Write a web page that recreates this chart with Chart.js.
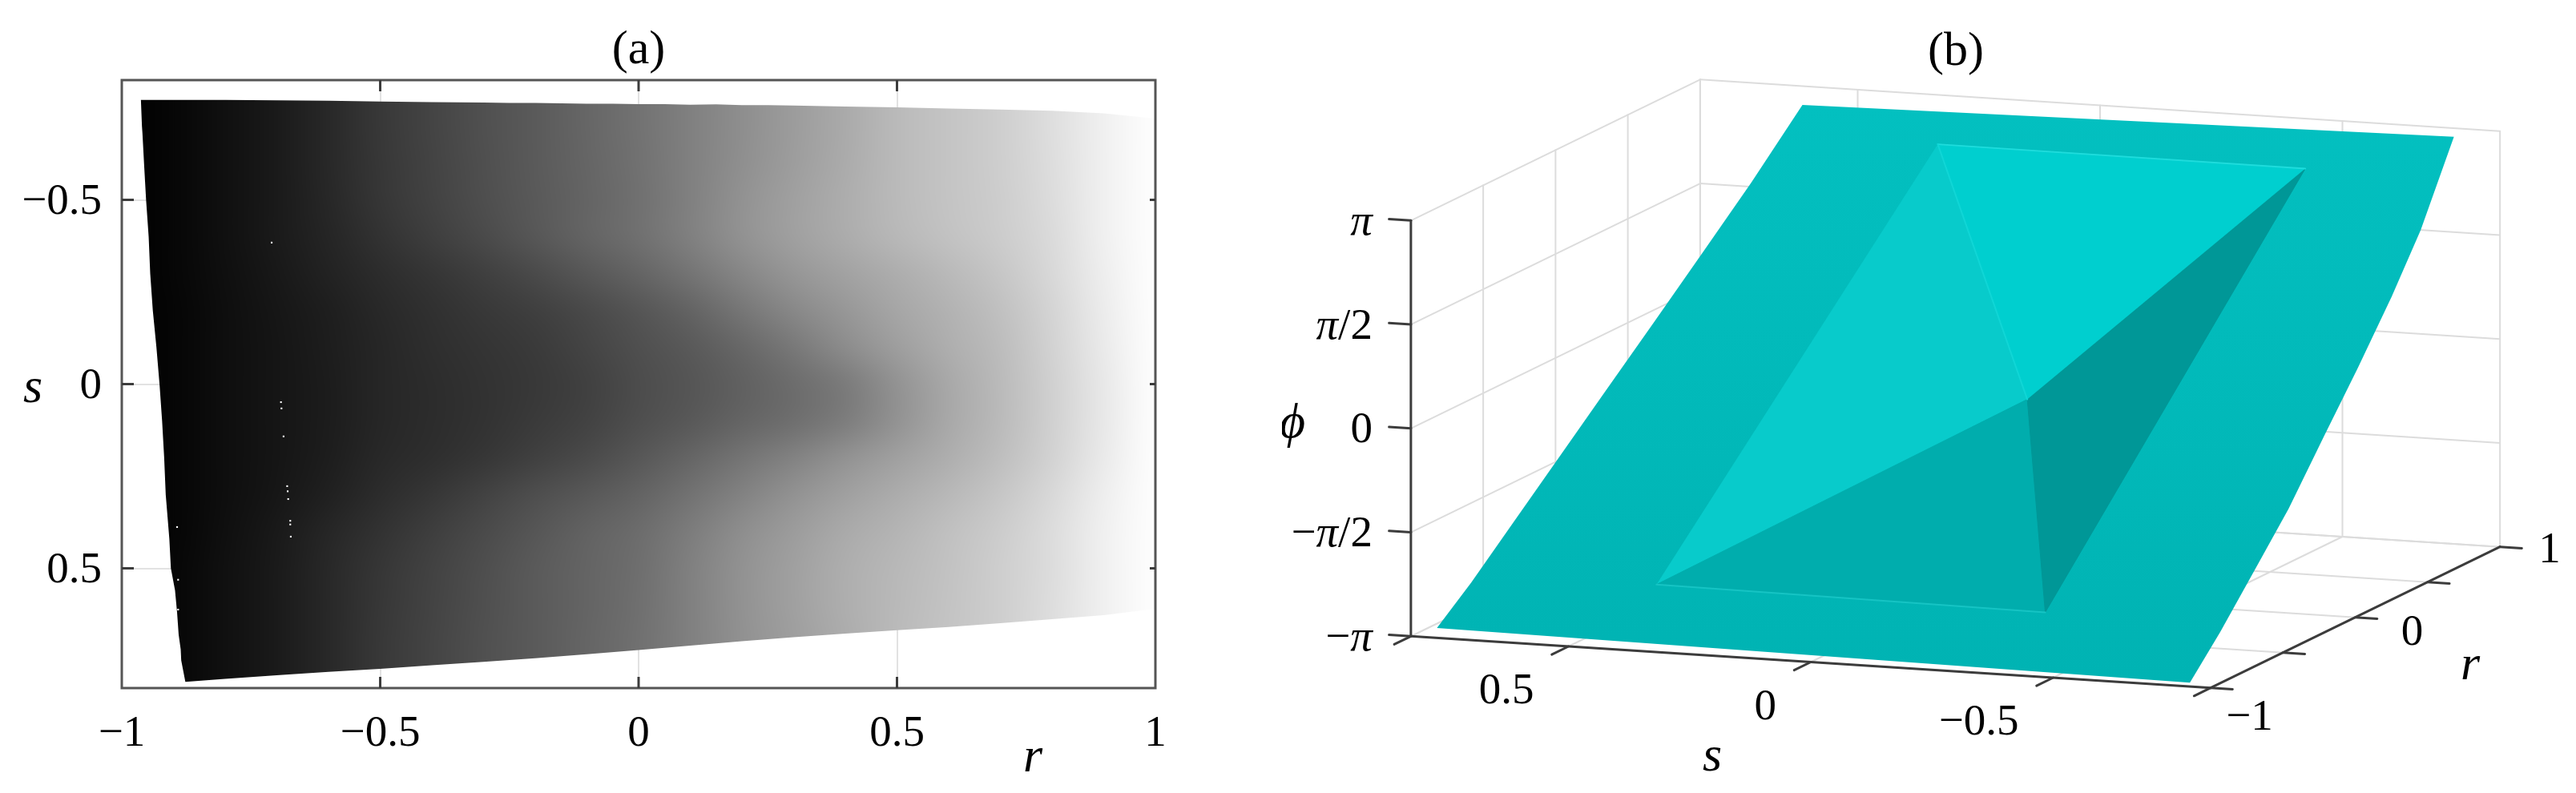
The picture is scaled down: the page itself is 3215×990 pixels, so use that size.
<!DOCTYPE html>
<html>
<head>
<meta charset="utf-8">
<title>Phase map</title>
<script src="https://cdn.jsdelivr.net/npm/chart.js@4/dist/chart.umd.min.js"></script>
<style>
  html, body { margin: 0; padding: 0; background: #fff; }
  canvas { position: absolute; top: 0; }
  #panelA { left: 0; }
  #panelB { left: 1600px; }
</style>
</head>
<body>
<canvas id="panelA" width="1600" height="990"></canvas>
<canvas id="panelB" width="1615" height="990"></canvas>
<script>
// panel (a): grey levels, rows are s, columns are r
const rGrid = [-1, -0.9, -0.8, -0.7, -0.6, -0.5, -0.4, -0.3, -0.2, -0.1, 0, 0.1, 0.2, 0.3, 0.4, 0.5, 0.6, 0.7, 0.8, 0.9, 1];
const sGrid = [-0.8, -0.7, -0.6, -0.5, -0.4, -0.3, -0.2, -0.1, 0, 0.1, 0.2, 0.3, 0.4, 0.5, 0.6, 0.7, 0.8];
const greyLevels = [
  [0, 6, 16, 26, 40, 56, 68, 80, 90, 102, 114, 128, 142, 156, 170, 186, 196, 206, 222, 240, 254],
  [0, 6, 16, 26, 40, 56, 68, 80, 90, 102, 114, 128, 142, 156, 170, 186, 196, 206, 222, 240, 254],
  [0, 6, 16, 26, 40, 55, 67, 79, 90, 101, 113, 128, 143, 157, 171, 186, 196, 206, 221, 240, 254],
  [0, 6, 16, 26, 39, 54, 66, 78, 89, 100, 112, 128, 146, 160, 173, 186, 196, 205, 220, 240, 254],
  [0, 6, 16, 26, 37, 50, 62, 74, 87, 100, 112, 128, 146, 160, 172, 184, 194, 204, 218, 240, 254],
  [0, 6, 15, 24, 34, 44, 53, 63, 74, 87, 100, 116, 134, 150, 162, 173, 185, 198, 216, 238, 254],
  [0, 5, 14, 22, 30, 40, 48, 56, 63, 73, 85, 99, 118, 136, 151, 166, 178, 192, 212, 236, 254],
  [0, 5, 14, 21, 29, 38, 46, 52, 58, 68, 79, 89, 103, 120, 140, 158, 174, 188, 210, 234, 254],
  [0, 5, 14, 21, 28, 38, 44, 50, 56, 64, 76, 85, 96, 108, 122, 146, 168, 186, 208, 232, 254],
  [0, 5, 14, 21, 28, 38, 44, 50, 58, 66, 78, 88, 100, 110, 124, 146, 168, 186, 208, 232, 254],
  [0, 5, 14, 21, 29, 40, 46, 54, 64, 74, 87, 101, 116, 130, 146, 160, 174, 190, 210, 234, 254],
  [0, 5, 14, 22, 32, 44, 54, 66, 78, 88, 99, 114, 130, 146, 160, 172, 184, 198, 216, 238, 254],
  [0, 5, 15, 25, 38, 50, 62, 74, 86, 98, 108, 124, 142, 156, 170, 180, 192, 204, 220, 240, 254],
  [0, 6, 16, 26, 40, 54, 66, 78, 90, 100, 110, 128, 146, 160, 174, 184, 194, 206, 220, 240, 254],
  [0, 6, 16, 26, 40, 55, 67, 79, 90, 100, 111, 128, 146, 160, 174, 185, 195, 206, 221, 240, 254],
  [0, 6, 16, 26, 40, 56, 68, 80, 90, 101, 112, 128, 145, 158, 172, 186, 196, 206, 222, 240, 254],
  [0, 6, 16, 26, 40, 56, 68, 80, 90, 101, 112, 128, 145, 158, 172, 186, 196, 206, 222, 240, 254]
];

// edge of the filled region in (a), clockwise from the top left corner
const edgeR = [-0.963, -0.9, -0.8, -0.7, -0.6, -0.5, -0.4, -0.3, -0.25, -0.2, -0.1, -0.05, 0, 0.05, 0.1, 0.15, 0.2, 0.25, 0.3, 0.4, 0.5, 0.6, 0.7, 0.8, 0.9, 0.97, 1,
  1, 0.9, 0.8, 0.7, 0.6, 0.5, 0.4, 0.3, 0.2, 0.15, 0.1, 0.05, 0, -0.1, -0.2, -0.3, -0.4, -0.5, -0.6, -0.7, -0.8, -0.877,
  -0.885, -0.886, -0.89, -0.893, -0.897, -0.905, -0.908, -0.915, -0.918, -0.922, -0.927, -0.933, -0.94, -0.945, -0.948, -0.953, -0.955, -0.957, -0.96, -0.961];
const edgeS = [-0.771, -0.771, -0.771, -0.77, -0.769, -0.767, -0.765, -0.764, -0.763, -0.763, -0.761, -0.761, -0.76, -0.76, -0.758, -0.759, -0.757, -0.757, -0.756, -0.753, -0.751, -0.748, -0.745, -0.742, -0.735, -0.725, -0.72,
  0.61, 0.627, 0.638, 0.649, 0.659, 0.668, 0.677, 0.687, 0.698, 0.704, 0.71, 0.716, 0.722, 0.733, 0.744, 0.754, 0.763, 0.773, 0.781, 0.79, 0.8, 0.808,
  0.75, 0.72, 0.68, 0.62, 0.56, 0.5, 0.42, 0.3, 0.2, 0.1, 0, -0.1, -0.2, -0.3, -0.4, -0.5, -0.55, -0.6, -0.68, -0.7];

// white specks in (a)
const speckR = [-0.71, -0.692, -0.691, -0.687, -0.68, -0.679, -0.678, -0.674, -0.674, -0.673, -0.893, -0.891, -0.891];
const speckS = [-0.384, 0.049, 0.066, 0.142, 0.277, 0.291, 0.312, 0.371, 0.381, 0.414, 0.388, 0.531, 0.612];

const rTicks = [-1, -0.5, 0, 0.5, 1];
const rTickLabels = ['\u22121', '\u22120.5', '0', '0.5', '1'];
const sTicks = [-0.5, 0, 0.5];
const sTickLabels = ['\u22120.5', '0', '0.5'];

// panel (b): outline of the sheet as (r, s, phi)
const sheetR = [-0.877, -0.7, -0.5, -0.25, 0, 0.25, 0.5, 0.75, 0.99, 1, 0.75, 0.5, 0.25, 0, -0.25, -0.5, -0.75, -0.963];
const sheetS = [0.808, 0.79, 0.773, 0.745, 0.724, 0.695, 0.668, 0.645, 0.611, -0.73, -0.736, -0.751, -0.755, -0.76, -0.762, -0.768, -0.77, -0.771];
const sheetPhi = [-3.14, -2.633, -2.035, -1.217, -0.475, 0.35, 1.162, 1.935, 2.87, 3.01, 1.87, 1.142, 0.32, -0.44, -1.263, -1.9, -2.59, -3.13];

// pyramid corners: two upper, two lower, apex
const pyramidR = [0.83, 0.83, -0.77, -0.76, 0.45];
const pyramidS = [0.284, -0.474, -0.415, 0.39, -0.014];
const pyramidPhi = [2.6, 2.59, -2.44, -2.41, -0.71];
const pyramidFaces = [[0, 1, 4], [0, 4, 3], [3, 4, 2], [1, 2, 4]];
const faceColors = ['#00cfcf', '#08cbcb', '#00adad', '#009797'];

const r3dTicks = [-1, -0.5, 0, 0.5, 1];
const r3dTickLabels = ['\u22121', '', '0', '', '1'];
const s3dTicks = [0.5, 0, -0.5];
const s3dTickLabels = ['0.5', '0', '\u22120.5'];
const phiTicks = [-Math.PI, -Math.PI / 2, 0, Math.PI / 2, Math.PI];
const phiTickLabels = ['\u2212\u03c0', '\u2212\u03c0/2', '0', '\u03c0/2', '\u03c0'];

const SERIF = '"Liberation Serif", "Times New Roman", serif';
const S_LIMIT = 0.825;
const AXIS_DARK = '#3c3c3c';

// panel (a)

const greyMap = {
  id: 'greyMap',
  beforeDatasetsDraw(chart) {
    const { ctx, scales: { x, y } } = chart;
    const src = document.createElement('canvas');
    src.width = rGrid.length;
    src.height = sGrid.length;
    const sctx = src.getContext('2d');
    const img = sctx.createImageData(src.width, src.height);
    greyLevels.forEach((row, j) => row.forEach((v, i) => {
      const k = (j * src.width + i) * 4;
      img.data[k] = img.data[k + 1] = img.data[k + 2] = v;
      img.data[k + 3] = 255;
    }));
    sctx.putImageData(img, 0, 0);

    const outline = chart.getDatasetMeta(1).data;
    ctx.save();
    ctx.beginPath();
    outline.forEach((p, i) => (i ? ctx.lineTo(p.x, p.y) : ctx.moveTo(p.x, p.y)));
    ctx.closePath();
    ctx.clip();
    ctx.imageSmoothingEnabled = true;
    ctx.imageSmoothingQuality = 'high';
    const left = x.getPixelForValue(-1.05);
    const right = x.getPixelForValue(1.05);
    const top = y.getPixelForValue(-0.85);
    const bottom = y.getPixelForValue(0.85);
    ctx.drawImage(src, left, top, right - left, bottom - top);
    ctx.restore();
  }
};

const boxAndLetters = {
  id: 'boxAndLetters',
  afterDraw(chart) {
    const { ctx, chartArea: a, scales: { x, y } } = chart;
    ctx.save();
    ctx.strokeStyle = '#555';
    ctx.lineWidth = 3;
    ctx.strokeRect(a.left, a.top, a.right - a.left, a.bottom - a.top);
    ctx.strokeStyle = AXIS_DARK;
    ctx.beginPath();
    rTicks.slice(1, -1).forEach(v => {
      const px = x.getPixelForValue(v);
      ctx.moveTo(px, a.top); ctx.lineTo(px, a.top + 14);
      ctx.moveTo(px, a.bottom); ctx.lineTo(px, a.bottom - 14);
    });
    sTicks.forEach(v => {
      const py = y.getPixelForValue(v);
      ctx.moveTo(a.left, py); ctx.lineTo(a.left + 15, py);
      ctx.moveTo(a.right, py); ctx.lineTo(a.right - 7, py);
    });
    ctx.stroke();
    ctx.fillStyle = '#000';
    ctx.font = 'italic 62px ' + SERIF;
    ctx.textAlign = 'center';
    ctx.textBaseline = 'alphabetic';
    ctx.fillText('s', 41, 502);
    ctx.fillText('r', 1289, 963);
    ctx.restore();
  }
};

new Chart(document.getElementById('panelA'), {
  type: 'scatter',
  data: {
    datasets: [
      {
        label: 'specks',
        data: speckR.map((r, i) => ({ x: r, y: speckS[i] })),
        backgroundColor: '#fff',
        borderWidth: 0,
        pointRadius: 1.5,
        pointStyle: 'rect'
      },
      {
        label: 'region',
        data: edgeR.map((r, i) => ({ x: r, y: edgeS[i] })),
        pointRadius: 0,
        showLine: false
      }
    ]
  },
  options: {
    responsive: false,
    animation: false,
    events: [],
    layout: { padding: { right: 158 } },
    plugins: {
      legend: { display: false },
      tooltip: { enabled: false },
      title: {
        display: true,
        text: '(a)',
        fullSize: false,
        color: '#000',
        font: { family: SERIF, size: 60, weight: 'normal', lineHeight: 1 },
        padding: { top: 33, bottom: 7 }
      }
    },
    scales: {
      x: {
        type: 'linear',
        min: -1,
        max: 1,
        afterBuildTicks: axis => { axis.ticks = rTicks.map(value => ({ value })); },
        afterFit: axis => { axis.height = 131; },
        grid: { color: '#e2e2e2', lineWidth: 2, drawTicks: false },
        border: { display: false },
        ticks: {
          callback: (v, i) => rTickLabels[i],
          autoSkip: false,
          maxRotation: 0,
          padding: 25,
          color: '#000',
          font: { family: SERIF, size: 55 }
        }
      },
      y: {
        type: 'linear',
        reverse: true,
        min: -S_LIMIT,
        max: S_LIMIT,
        afterBuildTicks: axis => { axis.ticks = sTicks.map(value => ({ value })); },
        afterFit: axis => { axis.width = 152; },
        grid: { color: '#e2e2e2', lineWidth: 2, drawTicks: false },
        border: { display: false },
        ticks: {
          callback: (v, i) => sTickLabels[i],
          autoSkip: false,
          padding: 25,
          labelOffset: 3,
          color: '#000',
          font: { family: SERIF, size: 55 }
        }
      }
    }
  },
  plugins: [greyMap, boxAndLetters]
});

// panel (b): view of the box, orthographic, in page units
const project = (r, s, phi) => ({
  x: 2440.5 + 180.5 * r - 605 * s,
  y: 479 - 88 * r - 39 * s - 82.6 * phi
});

const PHI_MAX = Math.PI;
const segment3d = (from, to, color, width) => ({
  data: [project(...from), project(...to)],
  showLine: true,
  borderColor: color,
  borderWidth: width,
  pointRadius: 0,
  borderCapStyle: 'round'
});
const polygon3d = (r, s, phi, color) => ({
  data: r.map((v, i) => project(v, s[i], phi[i])),
  showLine: true,
  fill: 'shape',
  backgroundColor: color,
  borderColor: typeof color === 'string' ? color : 'transparent',
  borderWidth: 1,
  pointRadius: 0
});

// painted in this order, reversed for the library at the end
const layers = [];
const GRID = '#dcdcdc';
const gridLevels = phiTicks;
const sLines = [S_LIMIT, 0.5, 0, -0.5, -S_LIMIT];

gridLevels.forEach(p => {
  layers.push(segment3d([1, S_LIMIT, p], [1, -S_LIMIT, p], GRID, 2));
  layers.push(segment3d([-1, S_LIMIT, p], [1, S_LIMIT, p], GRID, 2));
});
sLines.forEach(s => {
  layers.push(segment3d([1, s, -PHI_MAX], [1, s, PHI_MAX], GRID, 2));
  layers.push(segment3d([-1, s, -PHI_MAX], [1, s, -PHI_MAX], GRID, 2));
});
r3dTicks.forEach(r => {
  layers.push(segment3d([r, S_LIMIT, -PHI_MAX], [r, S_LIMIT, PHI_MAX], GRID, 2));
  layers.push(segment3d([r, S_LIMIT, -PHI_MAX], [r, -S_LIMIT, -PHI_MAX], GRID, 2));
});

// sheet
layers.push(polygon3d(sheetR, sheetS, sheetPhi, c => {
  const g = c.chart.ctx.createLinearGradient(0, 130, 0, 850);
  g.addColorStop(0, '#03c0c0');
  g.addColorStop(1, '#00b3b3');
  return g;
}));

// pyramid
pyramidFaces.forEach((face, i) => {
  layers.push(polygon3d(face.map(k => pyramidR[k]), face.map(k => pyramidS[k]), face.map(k => pyramidPhi[k]), faceColors[i]));
});
const corner = k => [pyramidR[k], pyramidS[k], pyramidPhi[k]];
layers.push(segment3d(corner(0), corner(1), '#1fdcdc', 2));
layers.push(segment3d(corner(0), corner(4), '#10d6d6', 2));
layers.push(segment3d(corner(3), corner(2), '#16c4c4', 2));

// axes
const AXIS_WIDTH = 3;
layers.push(segment3d([-1, S_LIMIT, -PHI_MAX], [-1, S_LIMIT, PHI_MAX], AXIS_DARK, AXIS_WIDTH));
layers.push(segment3d([-1, S_LIMIT, -PHI_MAX], [-1, -S_LIMIT, -PHI_MAX], AXIS_DARK, AXIS_WIDTH));
layers.push(segment3d([-1, -S_LIMIT, -PHI_MAX], [1, -S_LIMIT, -PHI_MAX], AXIS_DARK, AXIS_WIDTH));
phiTicks.forEach(p => layers.push(segment3d([-1, S_LIMIT, p], [-1, S_LIMIT + 0.045, p], AXIS_DARK, AXIS_WIDTH)));
[S_LIMIT, ...s3dTicks, -S_LIMIT].forEach(s => layers.push(segment3d([-1, s, -PHI_MAX], [-1.115, s, -PHI_MAX], AXIS_DARK, AXIS_WIDTH)));
r3dTicks.forEach(r => layers.push(segment3d([r, -S_LIMIT, -PHI_MAX], [r, -S_LIMIT - 0.045, -PHI_MAX], AXIS_DARK, AXIS_WIDTH)));

// left edge of each text from the tick foot on the r axis
const rLabelOffset = [[19, 38], null, [57, 20], null, [48, 5]];

const labels3d = {
  id: 'labels3d',
  afterDraw(chart) {
    const { ctx, scales: { x, y } } = chart;
    const at = (r, s, phi) => {
      const p = project(r, s, phi);
      return [x.getPixelForValue(p.x), y.getPixelForValue(p.y)];
    };
    ctx.save();
    ctx.fillStyle = '#000';
    ctx.textBaseline = 'middle';
    const roman = '55px ' + SERIF;
    const italic = 'italic 55px ' + SERIF;

    phiTicks.forEach((p, i) => {
      const [px, py] = at(-1, S_LIMIT, p);
      // minus and digits upright, pi italic, written right to left
      const label = phiTickLabels[i];
      let cursor = px - 48;
      ctx.textAlign = 'right';
      const parts = label.split(/(\u03c0)/).filter(Boolean).reverse();
      parts.forEach(part => {
        ctx.font = part === '\u03c0' ? italic : roman;
        ctx.fillText(part, cursor, py + 3);
        cursor -= ctx.measureText(part).width;
      });
    });

    ctx.font = roman;
    ctx.textAlign = 'right';
    s3dTicks.forEach((s, i) => {
      const [px, py] = at(-1, s, -PHI_MAX);
      ctx.fillText(s3dTickLabels[i], px - 43, py + 57);
    });
    ctx.textAlign = 'left';
    r3dTicks.forEach((r, i) => {
      if (!r3dTickLabels[i]) return;
      const [px, py] = at(r, -S_LIMIT, -PHI_MAX);
      ctx.fillText(r3dTickLabels[i], px + rLabelOffset[i][0], py + rLabelOffset[i][1]);
    });

    ctx.textAlign = 'center';
    ctx.font = 'italic 62px ' + SERIF;
    ctx.textBaseline = 'alphabetic';
    ctx.fillText('\u03d5', x.getPixelForValue(1613), y.getPixelForValue(546));
    ctx.fillText('s', x.getPixelForValue(2137), y.getPixelForValue(962));
    ctx.fillText('r', x.getPixelForValue(3083), y.getPixelForValue(848));
    ctx.font = '60px ' + SERIF;
    ctx.fillText('(b)', x.getPixelForValue(2441), y.getPixelForValue(81));
    ctx.restore();
  }
};

new Chart(document.getElementById('panelB'), {
  type: 'scatter',
  data: { datasets: layers.slice().reverse() },
  options: {
    responsive: false,
    animation: false,
    events: [],
    plugins: {
      legend: { display: false },
      tooltip: { enabled: false }
    },
    scales: {
      x: { type: 'linear', min: 1600, max: 3215, display: false },
      y: { type: 'linear', reverse: true, min: 0, max: 990, display: false }
    }
  },
  plugins: [labels3d]
});
</script>
</body>
</html>
